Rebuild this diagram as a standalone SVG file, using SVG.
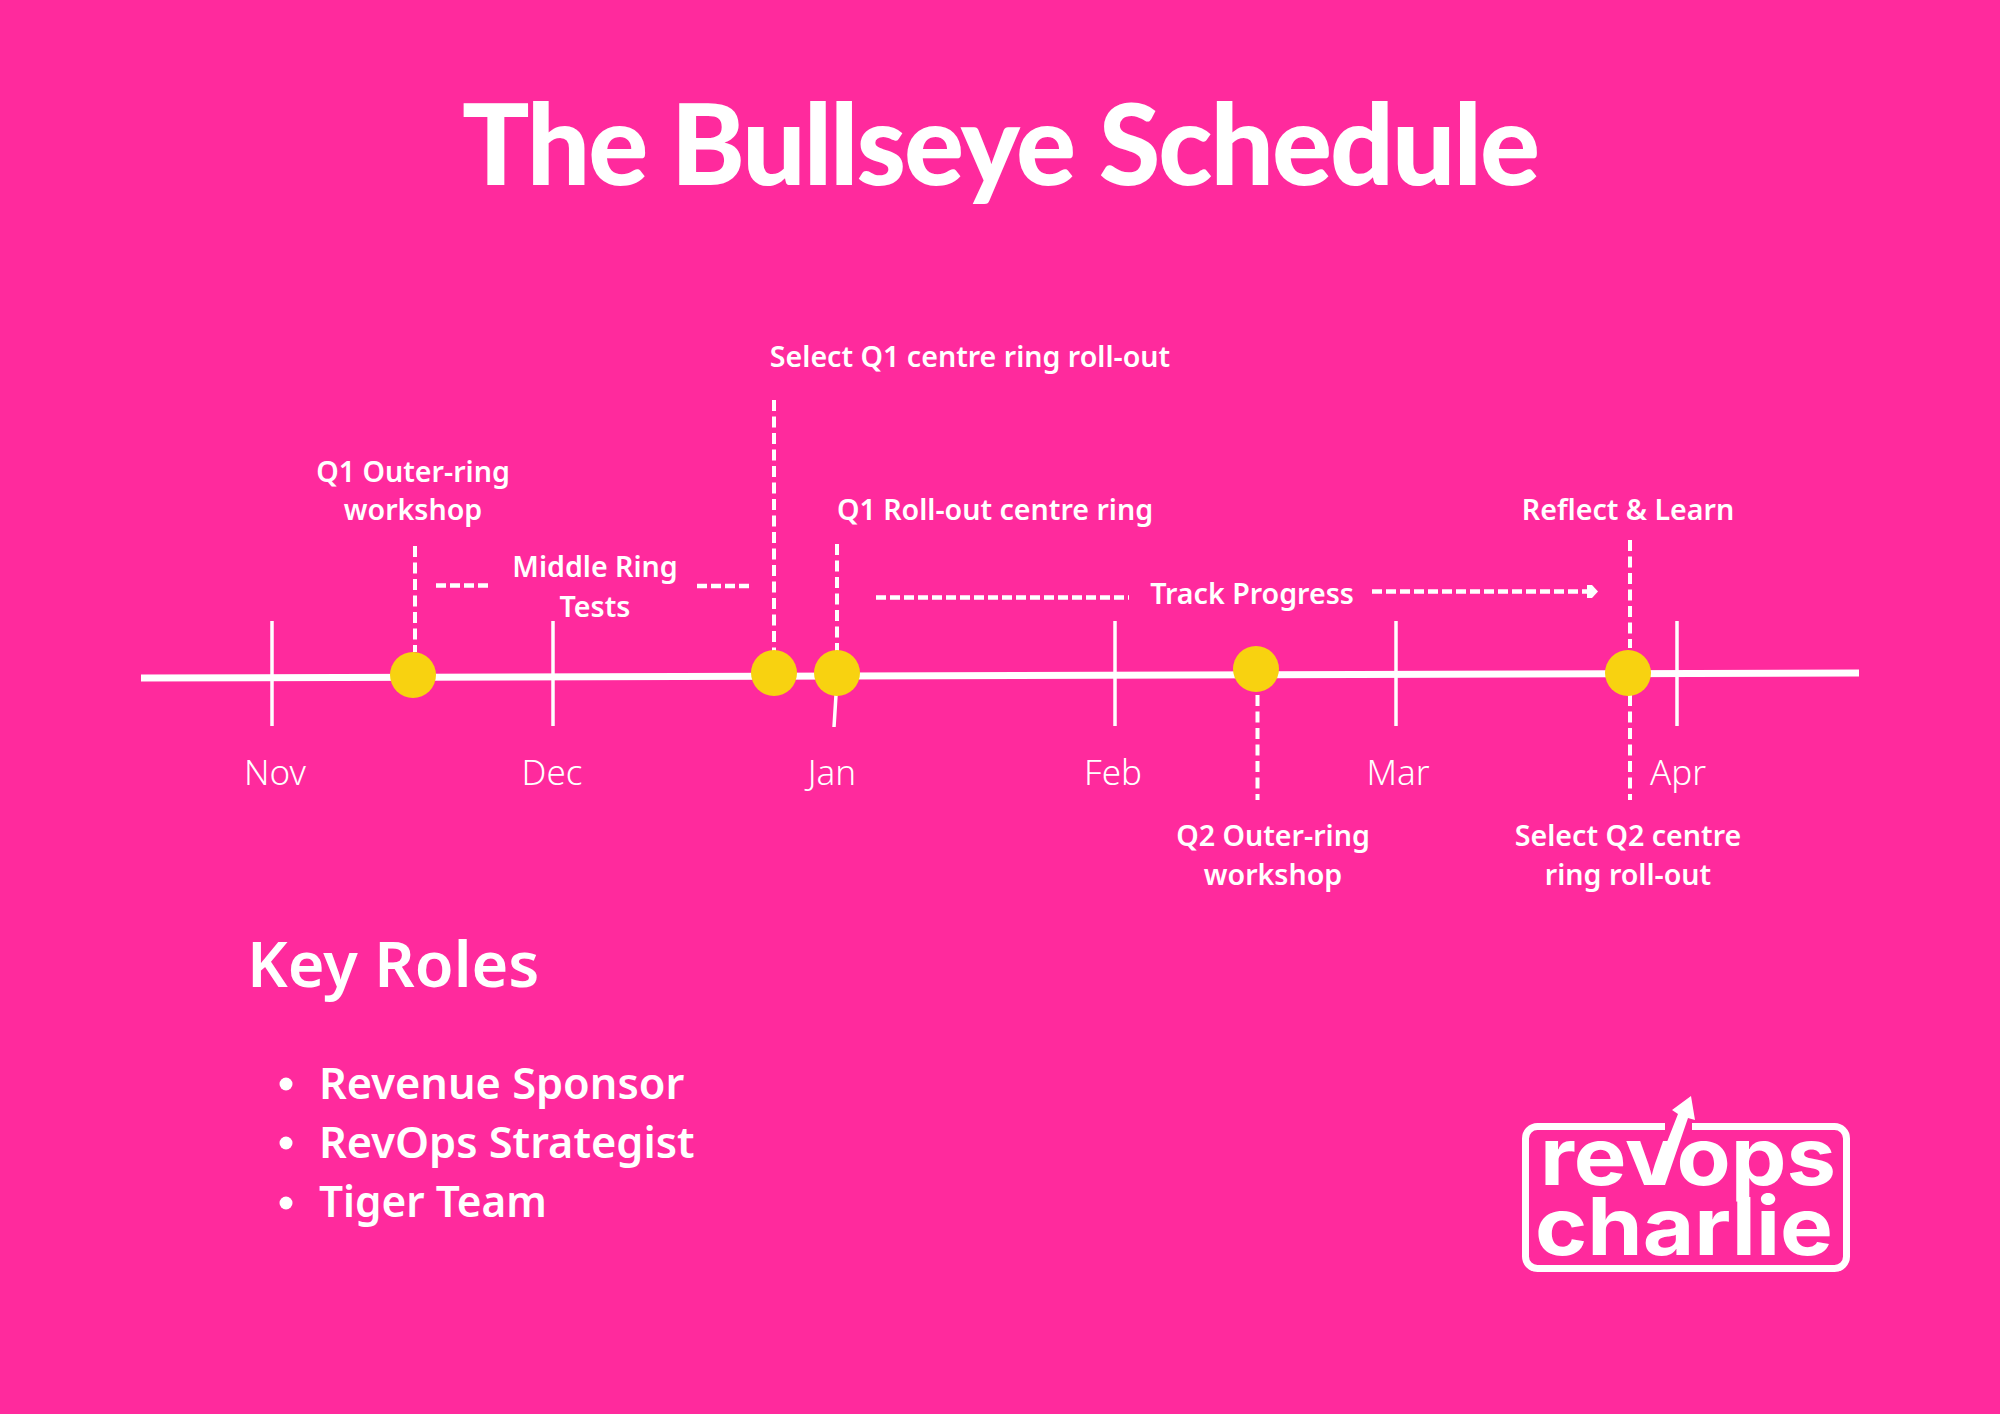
<svg xmlns="http://www.w3.org/2000/svg" width="2000" height="1414" viewBox="0 0 2000 1414">
<style>
text{fill:#fff;text-anchor:middle}
.title{font-family:"Lato","Liberation Sans",sans-serif;font-weight:900;font-size:112px;letter-spacing:-2px}
.lab{font-family:"Noto Sans","Open Sans",sans-serif;font-weight:600;font-size:28.6px}
.mon{font-family:"Noto Sans","Open Sans",sans-serif;font-weight:300;font-size:35px}
.head{font-family:"Noto Sans","Open Sans",sans-serif;font-weight:600;font-size:63px;text-anchor:start}
.item{font-family:"Noto Sans","Open Sans",sans-serif;font-weight:600;font-size:43.3px;text-anchor:start}
.logo{font-family:"Inter","Liberation Sans",sans-serif;font-weight:700;font-size:80px;text-anchor:start}
.tick{stroke:#fff;stroke-width:3.5;fill:none}
.axis{stroke:#fff;stroke-width:7;fill:none}
.dash{stroke:#fff;stroke-width:4;stroke-dasharray:11 5.5;fill:none}
.hdash{stroke:#fff;stroke-width:4.5;stroke-dasharray:10 4;fill:none}
.dot{fill:#f8d210}
</style>
<rect width="2000" height="1414" fill="#ff2a9d"/>
<text id="title" class="title" x="1000" y="185">The Bullseye Schedule</text>
<g id="connectors">
<line class="axis" x1="141" y1="678" x2="1859" y2="673"/>
<line class="tick" x1="272" y1="621" x2="272" y2="726"/>
<line class="tick" x1="553" y1="621" x2="553" y2="726"/>
<line class="tick" x1="836" y1="695" x2="834" y2="727"/>
<line class="tick" x1="1115" y1="621" x2="1115" y2="726"/>
<line class="tick" x1="1396" y1="621" x2="1396" y2="726"/>
<line class="tick" x1="1677" y1="621" x2="1677" y2="726"/>
<line class="dash" x1="415" y1="546" x2="415" y2="652"/>
<line class="dash" x1="774" y1="400" x2="774" y2="652"/>
<line class="dash" x1="837" y1="544" x2="837" y2="652"/>
<line class="dash" x1="1630" y1="540" x2="1630" y2="648"/>
<line class="dash" x1="1257.500" y1="695" x2="1257.500" y2="800"/>
<line class="dash" x1="1630" y1="695" x2="1630" y2="800"/>
<line class="hdash" x1="436" y1="585.500" x2="490" y2="585.500"/>
<line class="hdash" x1="697" y1="586" x2="751" y2="586"/>
<line class="hdash" x1="876" y1="597.500" x2="1129" y2="597.500"/>
<line class="hdash" x1="1372" y1="591.500" x2="1588" y2="591.500"/>
<polygon points="1587,585 1592,585 1598,591.500 1592,598 1587,598" fill="#fff"/>
</g>
<g id="node-q1-outer"><ellipse class="dot" cx="413" cy="675" rx="23" ry="23"/><text class="lab" x="413" y="482">Q1 Outer-ring</text><text class="lab" x="413" y="520">workshop</text></g>
<g id="node-middle"><text class="lab" x="595" y="577">Middle Ring</text><text class="lab" x="595" y="617">Tests</text></g>
<g id="node-select-q1"><ellipse class="dot" cx="774" cy="673" rx="23" ry="23"/><text class="lab" x="970" y="367">Select Q1 centre ring roll-out</text></g>
<g id="node-rollout"><ellipse class="dot" cx="837" cy="673" rx="23" ry="23"/><text class="lab" x="995" y="520">Q1 Roll-out centre ring</text></g>
<g id="node-track"><text class="lab" x="1252" y="604">Track Progress</text></g>
<g id="node-q2-outer"><ellipse class="dot" cx="1256" cy="669" rx="23" ry="23"/><text class="lab" x="1273" y="846">Q2 Outer-ring</text><text class="lab" x="1273" y="885">workshop</text></g>
<g id="node-reflect"><ellipse class="dot" cx="1628" cy="673" rx="23" ry="23"/><text class="lab" x="1628" y="520">Reflect &amp; Learn</text><text class="lab" x="1628" y="846">Select Q2 centre</text><text class="lab" x="1628" y="885">ring roll-out</text></g>
<g id="months">
<text class="mon" x="275" y="785">Nov</text>
<text class="mon" x="552" y="785">Dec</text>
<text class="mon" x="832" y="785">Jan</text>
<text class="mon" x="1113" y="785">Feb</text>
<text class="mon" x="1398" y="785">Mar</text>
<text class="mon" x="1678" y="785">Apr</text>
</g>
<g id="roles">
<text class="head" x="247" y="987">Key Roles</text>
<circle cx="286" cy="1084" r="6.500" fill="#fff"/><text class="item" x="319" y="1099">Revenue Sponsor</text>
<circle cx="286" cy="1143" r="6.500" fill="#fff"/><text class="item" x="319" y="1158">RevOps Strategist</text>
<circle cx="286" cy="1203" r="6.500" fill="#fff"/><text class="item" x="319" y="1217" textLength="228" lengthAdjust="spacingAndGlyphs">Tiger Team</text>
</g>
<g id="logo">
<path d="M1665 1126.500H1537.500a12 12 0 0 0-12 12V1256.500a12 12 0 0 0 12 12H1834.500a12 12 0 0 0 12-12V1138.500a12 12 0 0 0-12-12H1692" fill="none" stroke="#fff" stroke-width="7"/>
<text class="logo" x="1540" y="1185" textLength="296" lengthAdjust="spacingAndGlyphs">revops</text>
<text class="logo" x="1535" y="1255" textLength="298" lengthAdjust="spacingAndGlyphs">charlie</text>
<polygon points="1650,1185 1665,1185 1688,1118 1695,1120 1691,1096 1672,1110 1678,1114" fill="#fff"/>
</g>
</svg>
